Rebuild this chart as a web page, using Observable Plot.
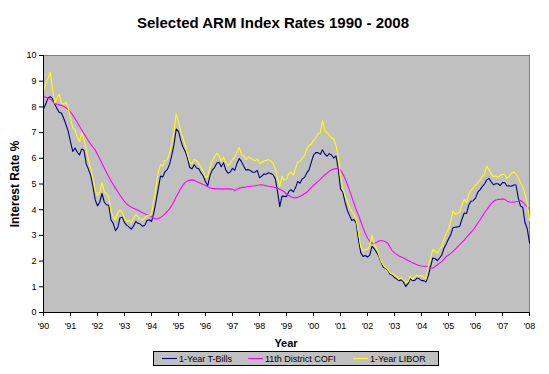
<!DOCTYPE html>
<html><head><meta charset="utf-8">
<script src="https://cdn.jsdelivr.net/npm/d3@7"></script>
<script src="https://cdn.jsdelivr.net/npm/@observablehq/plot@0.6"></script>
<style>body{margin:0;background:#fff;} svg{display:block}</style>
</head><body><div id="chart"></div>
<script>
const startYear = 1990; // monthly series, Jan 1990 .. Jan 2008
const seriesNames = ["1-Year T-Bills", "11th District COFI", "1-Year LIBOR"];
const seriesColors = ["#000080", "#FF00FF", "#FFFF00"];
const xTicks = [1990,1991,1992,1993,1994,1995,1996,1997,1998,1999,2000,2001,2002,2003,2004,2005,2006,2007,2008];
const xLabels = ["'90","'91","'92","'93","'94","'95","'96","'97","'98","'99","'00","'01","'02","'03","'04","'05","'06","'07","'08"];
const yTicks = [0,1,2,3,4,5,6,7,8,9,10];

const tbill = [
7.92,8.11,8.35,8.40,8.32,8.10,7.94,7.78,7.76,7.55,7.31,7.05,
6.64,6.27,6.40,6.24,6.13,6.36,6.31,5.78,5.57,5.33,4.89,4.38,
4.15,4.29,4.63,4.30,4.19,4.17,3.60,3.47,3.18,3.30,3.68,3.71,
3.50,3.39,3.33,3.24,3.36,3.54,3.47,3.44,3.36,3.39,3.58,3.61,
3.54,3.87,4.32,4.82,5.31,5.27,5.48,5.56,5.76,6.11,6.54,7.14,
7.05,6.70,6.43,6.27,6.00,5.64,5.59,5.75,5.62,5.59,5.43,5.31,
5.09,4.94,5.34,5.54,5.64,5.81,5.85,5.67,5.83,5.55,5.42,5.47,
5.61,5.53,5.80,5.99,5.87,5.69,5.54,5.56,5.52,5.46,5.46,5.53,
5.24,5.31,5.39,5.38,5.44,5.41,5.36,5.21,4.71,4.12,4.53,4.52,
4.51,4.70,4.78,4.69,4.85,5.10,5.03,5.20,5.25,5.43,5.55,5.84,
6.12,6.22,6.22,6.15,6.33,6.17,6.08,6.18,6.13,6.01,6.09,5.60,
4.81,4.68,4.30,3.98,3.78,3.58,3.62,3.47,2.82,2.33,2.18,2.22,
2.16,2.23,2.57,2.48,2.35,2.20,1.96,1.76,1.72,1.65,1.49,1.45,
1.36,1.30,1.24,1.27,1.18,1.01,1.12,1.31,1.24,1.25,1.34,1.31,
1.24,1.24,1.19,1.43,1.78,2.12,2.10,2.02,2.12,2.23,2.50,2.67,
2.86,3.03,3.30,3.32,3.33,3.36,3.64,3.87,3.85,4.18,4.33,4.35,
4.45,4.68,4.77,4.90,5.00,5.16,5.22,5.08,4.97,5.01,5.01,4.94,
5.06,5.05,4.92,4.93,4.91,4.96,4.96,4.47,4.14,4.10,3.50,3.26,
2.71];

const cofi = [
8.40,8.38,8.34,8.30,8.22,8.14,8.10,8.08,8.06,8.02,7.96,7.90,
7.80,7.68,7.55,7.40,7.25,7.10,6.95,6.82,6.68,6.55,6.44,6.32,
6.15,5.98,5.80,5.62,5.45,5.28,5.12,4.98,4.84,4.70,4.56,4.44,
4.32,4.22,4.15,4.10,4.06,4.02,3.98,3.93,3.88,3.84,3.80,3.76,
3.72,3.67,3.64,3.66,3.70,3.76,3.84,3.93,4.03,4.16,4.32,4.50,
4.66,4.82,4.96,5.06,5.12,5.15,5.16,5.14,5.10,5.06,5.02,4.98,
4.94,4.89,4.85,4.83,4.82,4.81,4.81,4.81,4.80,4.81,4.81,4.80,
4.80,4.74,4.80,4.84,4.86,4.87,4.88,4.90,4.91,4.92,4.93,4.95,
4.96,4.97,4.95,4.93,4.91,4.90,4.88,4.86,4.84,4.80,4.75,4.70,
4.60,4.55,4.50,4.47,4.46,4.48,4.52,4.56,4.62,4.68,4.76,4.86,
4.95,5.02,5.10,5.18,5.27,5.35,5.42,5.50,5.55,5.58,5.60,5.60,
5.55,5.40,5.22,5.00,4.75,4.50,4.25,4.00,3.78,3.55,3.30,3.08,
2.90,2.78,2.70,2.68,2.72,2.78,2.80,2.78,2.75,2.70,2.55,2.40,
2.32,2.26,2.20,2.16,2.12,2.07,2.02,1.98,1.94,1.90,1.86,1.83,
1.81,1.80,1.80,1.79,1.74,1.72,1.78,1.85,1.92,1.98,2.08,2.18,
2.24,2.30,2.38,2.46,2.55,2.64,2.73,2.82,2.92,3.02,3.12,3.22,
3.34,3.48,3.60,3.74,3.88,4.00,4.12,4.24,4.32,4.38,4.40,4.40,
4.42,4.40,4.34,4.30,4.29,4.30,4.31,4.33,4.36,4.30,4.20,4.12,
4.00];

const libor = [
8.64,8.90,9.10,9.35,8.70,8.15,8.35,8.50,8.15,8.10,8.18,7.95,
7.55,7.20,7.10,6.85,6.65,7.00,6.75,6.35,5.95,5.60,5.20,4.75,
4.55,4.70,5.05,4.70,4.62,4.50,3.95,3.72,3.62,3.88,4.00,3.90,
3.65,3.55,3.58,3.50,3.68,3.80,3.72,3.62,3.60,3.68,3.78,3.75,
3.85,4.35,4.85,5.45,5.75,5.70,5.90,5.95,6.20,6.55,7.05,7.73,
7.40,7.05,6.80,6.50,6.15,5.85,5.80,5.95,5.90,5.80,5.65,5.50,
5.25,5.30,5.65,5.90,6.05,6.20,6.10,5.90,6.05,5.85,5.70,5.80,
5.95,6.05,6.25,6.43,6.15,6.10,5.95,6.05,6.00,5.95,5.90,5.98,
5.80,5.85,5.90,5.92,5.95,5.90,5.80,5.60,5.25,4.90,5.30,5.15,
5.20,5.40,5.45,5.35,5.60,5.85,5.90,6.00,6.10,6.35,6.50,6.55,
6.70,6.80,6.95,7.00,7.47,7.10,7.00,6.90,6.80,6.75,6.50,6.05,
5.30,4.85,4.55,4.35,4.10,3.95,3.80,3.60,3.10,2.55,2.40,2.45,
2.45,2.60,3.00,2.65,2.50,2.25,2.00,1.85,1.75,1.68,1.55,1.50,
1.45,1.38,1.30,1.35,1.25,1.18,1.20,1.40,1.30,1.38,1.45,1.40,
1.45,1.38,1.32,1.78,2.10,2.45,2.38,2.32,2.45,2.58,2.85,3.10,
3.25,3.55,3.95,3.82,3.85,3.92,4.20,4.40,4.28,4.60,4.75,4.85,
4.95,5.05,5.15,5.30,5.38,5.70,5.55,5.38,5.28,5.32,5.25,5.33,
5.38,5.35,5.22,5.30,5.42,5.48,5.38,5.25,5.05,4.90,4.60,4.25,
3.58];

const seriesValues = [tbill, cofi, libor];
const rows = seriesValues.flatMap((vals, k) =>
  vals.map((v, i) => ({t: startYear + i / 12, v, s: seriesNames[k]})));

const font = "Arial, 'Liberation Sans', sans-serif";

const chart = Plot.plot({
  width: 549, height: 374,
  marginTop: 55, marginRight: 20, marginBottom: 62, marginLeft: 43,
  style: {fontFamily: font, fontSize: "9px", background: "#fff", color: "#000", overflow: "visible"},
  x: {domain: [1990, 2008], label: null},
  y: {domain: [0, 10], label: null},
  color: {domain: seriesNames, range: seriesColors},
  marks: [
    Plot.frame({fill: "#C0C0C0", stroke: "#808080"}),
    Plot.line(rows, {x: "t", y: "v", z: "s", stroke: "s", strokeWidth: 1.1}),
    Plot.ruleY([0], {stroke: "#000"}),
    Plot.ruleX([1990], {stroke: "#000"}),
    Plot.axisY(yTicks, {tickSize: 4, tickPadding: 3, label: null, stroke: "#000"}),
    Plot.axisX(xTicks, {tickSize: 4, tickPadding: 6, label: null, stroke: "#000",
      tickFormat: d => xLabels[xTicks.indexOf(d)]})
  ]
});

const svg = d3.select(chart);
svg.append("text").attr("x", 273).attr("y", 28).attr("text-anchor", "middle")
  .attr("font-family", font).attr("font-weight", "bold").attr("font-size", 15)
  .text("Selected ARM Index Rates 1990 - 2008");
svg.append("text").attr("transform", "translate(19,184) rotate(-90)").attr("text-anchor", "middle")
  .attr("font-family", font).attr("font-weight", "bold").attr("font-size", 12)
  .text("Interest Rate %");
svg.append("text").attr("x", 286).attr("y", 347).attr("text-anchor", "middle")
  .attr("font-family", font).attr("font-weight", "bold").attr("font-size", 11)
  .text("Year");

const lg = svg.append("g").attr("text-anchor", "start");
lg.append("rect").attr("x", 153.5).attr("y", 351.5).attr("width", 285).attr("height", 14)
  .attr("fill", "#C0C0C0").attr("stroke", "#000");
const legendX = [162, 248, 353];
seriesNames.forEach((name, k) => {
  lg.append("line").attr("x1", legendX[k]).attr("x2", legendX[k] + 15)
    .attr("y1", 358.5).attr("y2", 358.5).attr("stroke", seriesColors[k]).attr("stroke-width", 1.1);
  lg.append("text").attr("x", legendX[k] + 17).attr("y", 362).attr("text-anchor", "start")
    .attr("font-family", font).attr("font-size", 9).text(name);
});

document.getElementById("chart").appendChild(chart);
</script>
</body></html>
